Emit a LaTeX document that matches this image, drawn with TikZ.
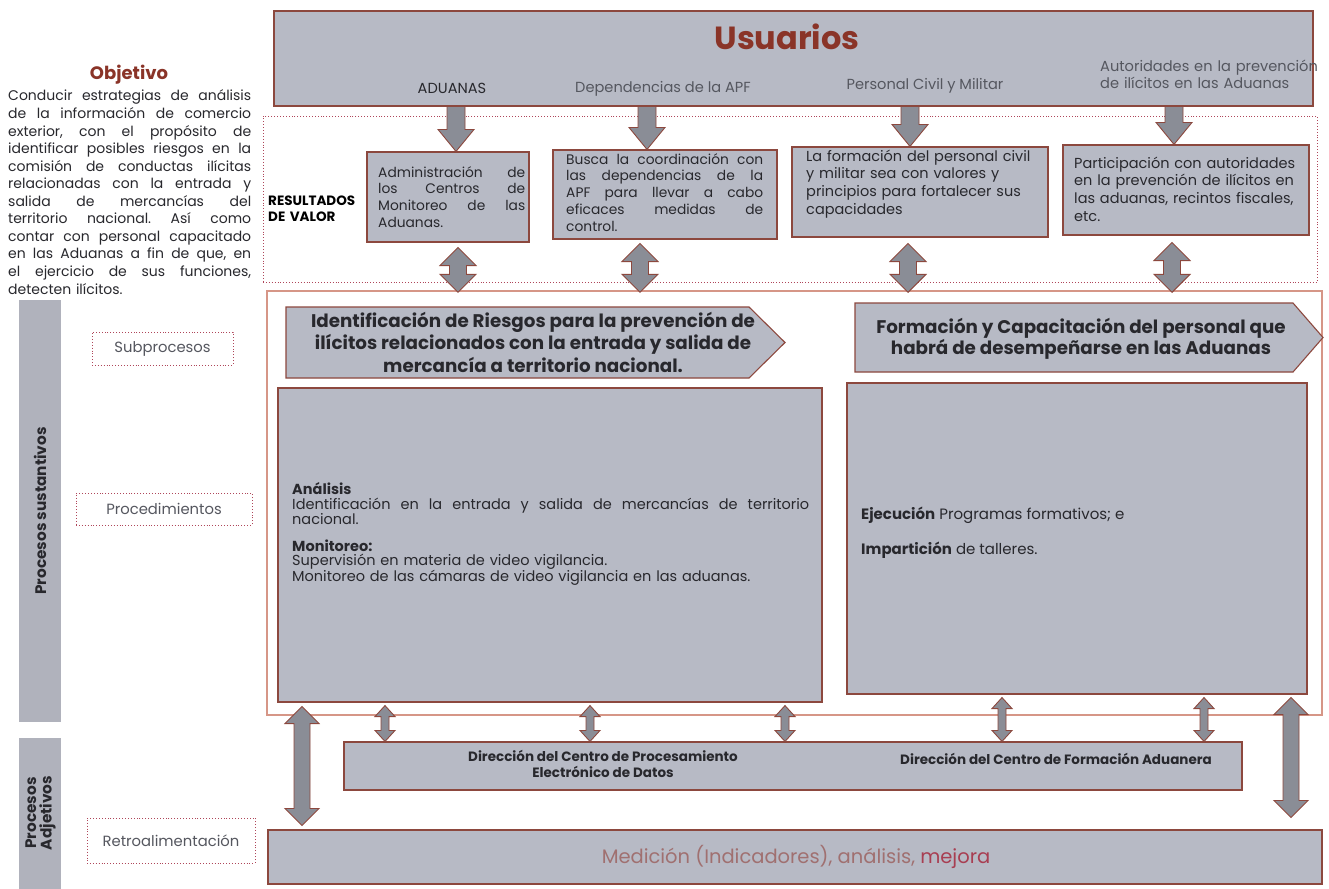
\documentclass[tikz,border=0pt]{standalone}
\usepackage{fontspec}
\setmainfont{Poppins}
\usetikzlibrary{calc}

\definecolor{boxgray}{RGB}{183,186,197}
\definecolor{bargray}{RGB}{176,178,188}
\definecolor{arrowgray}{RGB}{138,141,150}
\definecolor{edge}{RGB}{140,72,62}
\definecolor{framec}{RGB}{214,150,135}
\definecolor{dotc}{RGB}{175,70,90}
\definecolor{titlered}{RGB}{138,52,40}
\definecolor{ink}{RGB}{40,40,45}
\definecolor{softink}{RGB}{85,87,95}
\definecolor{medc}{RGB}{160,112,112}
\definecolor{mejorac}{RGB}{168,62,82}

% vertical block arrow pointing down: top point, bottom point, half shaft, half head, head length
\newcommand{\blockdown}[5]{%
  \draw[blockarrow] let \p1=(#1), \p2=(#2) in
    (\x1-#3,\y1) -- (\x1+#3,\y1) -- (\x1+#3,\y2+#5) -- (\x1+#4,\y2+#5) -- (\x1,\y2)
    -- (\x1-#4,\y2+#5) -- (\x1-#3,\y2+#5) -- cycle;}
% vertical block arrow with heads at both ends
\newcommand{\blockboth}[5]{%
  \draw[blockarrow] let \p1=(#1), \p2=(#2) in
    (\x1,\y1) -- (\x1+#4,\y1-#5) -- (\x1+#3,\y1-#5) -- (\x1+#3,\y2+#5) -- (\x1+#4,\y2+#5)
    -- (\x1,\y2) -- (\x1-#4,\y2+#5) -- (\x1-#3,\y2+#5) -- (\x1-#3,\y1-#5) -- (\x1-#4,\y1-#5) -- cycle;}
% one fully justified line of a given width: word spaces stretch to fill it
\newcommand{\jline}[2]{\makebox[#1][s]{\spaceskip=0.25em plus 1fil\xspaceskip=0.25em plus 1fil\relax #2}}

\tikzset{
  gbox/.style={draw=edge, fill=boxgray, line width=1.1pt, inner sep=0pt},
  dotbox/.style={draw=dotc, dotted, line width=0.9pt, inner sep=0pt},
  blockarrow/.style={draw=edge, fill=arrowgray, line width=0.9pt, line join=miter},
  sidebar/.style={fill=bargray, inner sep=0pt},
  chevron/.style={draw=edge, fill=boxgray, line width=1.1pt, line join=miter},
  txt/.style={inner sep=0pt, text=ink, anchor=base west},
  boxtxt/.style={txt, align=left, font=\fontsize{14.5}{17.7}\selectfont},
  usrlbl/.style={inner sep=0pt, text=softink, anchor=base, font=\fontsize{14.6}{16.5}\selectfont},
  sidelbl/.style={dotbox, text=softink, font=\fontsize{14.8}{16}\selectfont},
  chevtxt/.style={inner sep=0pt, text=ink, align=center, font=\bfseries\fontsize{18.3}{22.5}\selectfont},
  dirtxt/.style={inner sep=0pt, text=ink, align=center, font=\bfseries\fontsize{13.5}{15.5}\selectfont},
}

\begin{document}
\frenchspacing
\begin{tikzpicture}[x=1pt,y=-1pt]
\useasboundingbox (0,0) rectangle (1329,888);
\fill[white] (0,0) rectangle (1329,888);

% ---------- left column ----------
\node[inner sep=0pt, anchor=base, text=titlered, font=\bfseries\fontsize{18}{20}\selectfont] (objt) at (129,80) {Objetivo};
\node[txt, text width=243pt, align=left, font=\fontsize{14}{17.55}\selectfont] (obj) at (8,101)
  {\jline{243pt}{Conducir estrategias de análisis}\\
   \jline{243pt}{de la información de comercio}\\
   \jline{243pt}{exterior, con el propósito de}\\
   \jline{243pt}{identificar posibles riesgos en la}\\
   \jline{243pt}{comisión de conductas ilícitas}\\
   \jline{243pt}{relacionadas con la entrada y}\\
   \jline{243pt}{salida de mercancías del}\\
   \jline{243pt}{territorio nacional. Así como}\\
   \jline{243pt}{contar con personal capacitado}\\
   \jline{243pt}{en las Aduanas a fin de que, en}\\
   \jline{243pt}{el ejercicio de sus funciones,}\\
   detecten ilícitos.};

\node[sidebar, minimum width=42pt, minimum height=422pt] (sust) at (40,511) {};
\node[rotate=90, inner sep=0pt, text=ink, font=\bfseries\fontsize{15.3}{18}\selectfont] (sustl) at (sust.center) {Procesos sustantivos};
\node[sidebar, minimum width=42pt, minimum height=160pt, anchor=north] (adj) at (40,738) {};
\node[rotate=90, inner sep=0pt, text=ink, align=center, font=\bfseries\fontsize{15.3}{15.5}\selectfont] (adjl) at (40.5,813) {Procesos\\Adjetivos};

\node[sidelbl, minimum width=141pt, minimum height=33pt] (subp) at (162.5,348.5) {Subprocesos};
\node[sidelbl, minimum width=176pt, minimum height=32pt] (proc) at (164,509) {Procedimientos};
\node[sidelbl, minimum width=168pt, minimum height=45pt] (retro) at (171,840.5) {Retroalimentación};

% ---------- users ----------
\node[gbox, minimum width=1039pt, minimum height=95pt] (usr) at (793.5,58.5) {};
\node[inner sep=0pt, anchor=base, text=titlered, font=\bfseries\fontsize{32}{34}\selectfont] (usrt) at (787,50) {Usuarios};
\node[usrlbl, text=ink] (u1) at (452,94) {ADUANAS};
\node[usrlbl] (u2) at (663,93) {Dependencias de la APF};
\node[usrlbl] (u3) at (925,90) {Personal Civil y Militar};
\node[usrlbl, anchor=base west, text width=230pt, align=left] (u4) at (1100,72) {Autoridades en la prevención\\de ilícitos en las Aduanas};

% ---------- value results ----------
\node[dotbox, minimum width=1054pt, minimum height=166pt] (resf) at (790,199) {};
\node[txt, text width=100pt, align=left, font=\bfseries\fontsize{13.5}{16.5}\selectfont, text=black] (resl) at (268,205) {RESULTADOS\\DE VALOR};

\node[gbox, minimum width=162pt, minimum height=90pt] (res1) at (448,197) {};
\node[gbox, minimum width=224pt, minimum height=89pt] (res2) at (665,194.5) {};
\node[gbox, minimum width=256pt, minimum height=90pt] (res3) at (920,192) {};
\node[gbox, minimum width=246pt, minimum height=90pt] (res4) at (1186,190) {};

\node[boxtxt, text width=147pt, font=\fontsize{13.8}{16.8}\selectfont] (res1t) at (378,177)
  {\jline{147pt}{Administración de}\\\jline{147pt}{los Centros de}\\\jline{147pt}{Monitoreo de las}\\Aduanas.};
\node[boxtxt, text width=197pt, font=\fontsize{13.8}{16.8}\selectfont] (res2t) at (566,164)
  {\jline{197pt}{Busca la coordinación con}\\\jline{197pt}{las dependencias de la}\\\jline{197pt}{APF para llevar a cabo}\\\jline{197pt}{eficaces medidas de}\\control.};
\node[boxtxt, text width=235pt] (res3t) at (806,161)
  {La formación del personal civil\\y militar sea con valores y\\principios para fortalecer sus\\capacidades};
\node[boxtxt, text width=232pt] (res4t) at (1074,168)
  {Participación con autoridades\\en la prevención de ilícitos en\\las aduanas, recintos fiscales,\\etc.};

% ---------- substantive processes ----------
\node[draw=framec, line width=1.3pt, inner sep=0pt, minimum width=1055pt, minimum height=424pt] (frame) at (794.5,503) {};

\path[chevron] (286,307) -- (749,307) -- (785,342.5) -- (749,378) -- (286,378) -- cycle;
\path[chevron] (855,303) -- (1293,303) -- (1323,337.5) -- (1293,372) -- (855,372) -- cycle;
\node[chevtxt] (ch1) at (533,342) {Identificación de Riesgos para la prevención de\\ilícitos relacionados con la entrada y salida de\\mercancía a territorio nacional.};
\node[chevtxt, font=\bfseries\fontsize{18.3}{21}\selectfont] (ch2) at (1081,339) {Formación y Capacitación del personal que\\habrá de desempeñarse en las Aduanas};

\node[gbox, minimum width=544pt, minimum height=314pt] (pb1) at (550,545) {};
\node[gbox, minimum width=460pt, minimum height=311pt] (pb2) at (1077,538.5) {};

\node[txt, text width=517pt, align=left, font=\fontsize{14.5}{15}\selectfont] (pb1a) at (292,494)
  {\textbf{Análisis}\\\jline{517pt}{Identificación en la entrada y salida de mercancías de territorio}\\nacional.};
\node[txt, text width=517pt, align=left, font=\fontsize{14.5}{14.5}\selectfont] (pb1b) at (292,551)
  {\textbf{Monitoreo:}\\Supervisión en materia de video vigilancia.\\Monitoreo de las cámaras de video vigilancia en las aduanas.};
\node[txt, font=\fontsize{15}{16}\selectfont] (pb2a) at (861,519) {\textbf{Ejecución} Programas formativos; e};
\node[txt, font=\fontsize{15}{16}\selectfont] (pb2b) at (861,554) {\textbf{Impartición} de talleres.};

% ---------- directions and measurement ----------
\node[gbox, minimum width=898pt, minimum height=48pt] (dir) at (793,766) {};
\node[dirtxt] (dir1) at (603,764) {Dirección del Centro de Procesamiento\\Electrónico de Datos};
\node[dirtxt] (dir2) at (1056,759) {Dirección del Centro de Formación Aduanera};

\node[gbox, minimum width=1054pt, minimum height=54pt] (med) at (795,857) {};
\node[inner sep=0pt, anchor=base, font=\fontsize{19.5}{21}\selectfont, text=medc] (medt) at (796,863) {Medición (Indicadores), análisis, \textcolor{mejorac}{mejora}};

% ---------- arrow positions ----------
\coordinate (a1) at (456,0);  \coordinate (a2) at (647,0);
\coordinate (a3) at (910,0);  \coordinate (a4) at (1174,0);
\coordinate (b1) at (458,0);  \coordinate (b2) at (640,0);
\coordinate (b3) at (908,0);  \coordinate (b4) at (1172,0);
\coordinate (s1) at (385,0);  \coordinate (s2) at (590,0);  \coordinate (s3) at (785,0);
\coordinate (s4) at (1002,0); \coordinate (s5) at (1204,0);
\coordinate (bl) at (302,0);  \coordinate (br) at (1291,0);

% users -> results
\blockdown{usr.south -| a1}{res1.north -| a1}{9pt}{18pt}{22pt}
\blockdown{usr.south -| a2}{res2.north -| a2}{9pt}{18pt}{22pt}
\blockdown{usr.south -| a3}{res3.north -| a3}{9pt}{18pt}{22pt}
\blockdown{usr.south -| a4}{res4.north -| a4}{9pt}{18pt}{22pt}

% results <-> processes
\blockboth{$(res1.south -| b1)+(0,5)$}{$(frame.north -| b1)+(0,2)$}{8.5pt}{18pt}{18pt}
\blockboth{$(res2.south -| b2)+(0,4)$}{$(frame.north -| b2)+(0,2)$}{8.5pt}{18pt}{18pt}
\blockboth{$(res3.south -| b3)+(0,6)$}{$(frame.north -| b3)+(0,2)$}{8.5pt}{18pt}{18pt}
\blockboth{$(res4.south -| b4)+(0,7)$}{$(frame.north -| b4)+(0,2)$}{8.5pt}{18pt}{18pt}

% procedures <-> directions
\blockboth{$(pb1.south -| s1)+(0,3)$}{dir.north -| s1}{4pt}{10pt}{11pt}
\blockboth{$(pb1.south -| s2)+(0,3)$}{dir.north -| s2}{4pt}{10pt}{11pt}
\blockboth{$(pb1.south -| s3)+(0,3)$}{dir.north -| s3}{4pt}{10pt}{11pt}
\blockboth{$(pb2.south -| s4)+(0,3)$}{dir.north -| s4}{4pt}{10pt}{11pt}
\blockboth{$(pb2.south -| s5)+(0,3)$}{dir.north -| s5}{4pt}{10pt}{11pt}

% processes <-> measurement
\blockboth{$(pb1.south -| bl)+(0,4)$}{$(med.north -| bl)+(0,-4)$}{8pt}{17pt}{17pt}
\blockboth{$(pb2.south -| br)+(0,3)$}{$(med.north -| br)+(0,-12)$}{8pt}{17pt}{17pt}
\end{tikzpicture}
\end{document}
